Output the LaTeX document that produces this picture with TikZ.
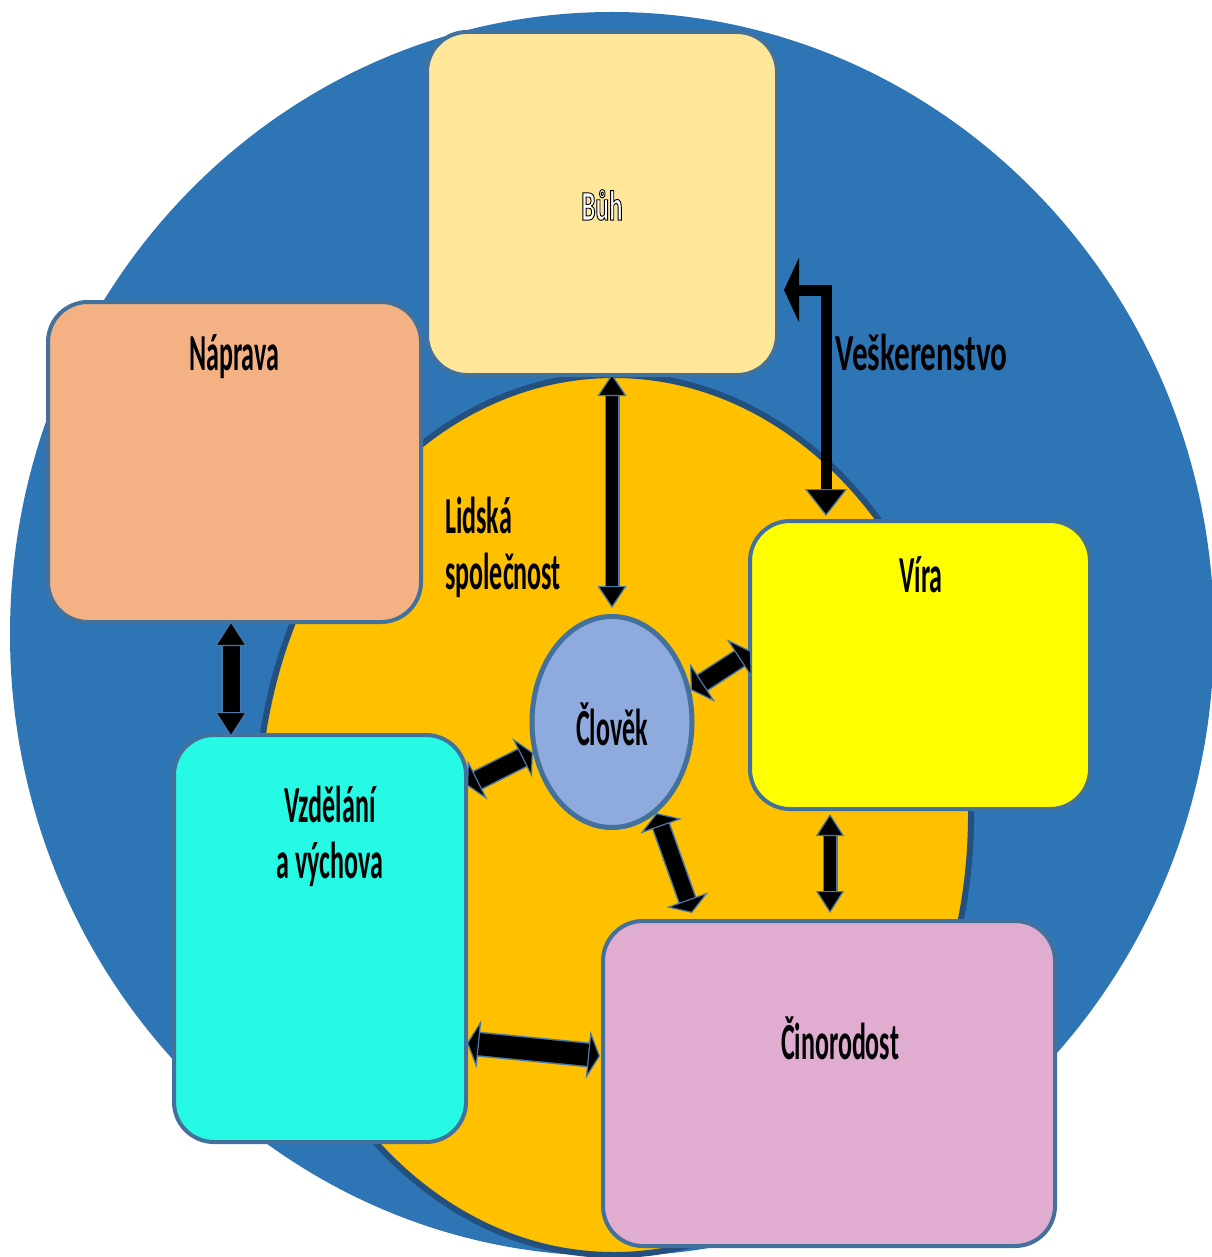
\documentclass[tikz,border=0pt]{standalone}
\usepackage{fontspec}
\usetikzlibrary{shapes.geometric,arrows.meta,calc}
\newfontfamily\cf{Carlito}[FakeStretch=0.5]
\newfontfamily\cfw{Carlito}[FakeStretch=0.6]
\definecolor{bgblue}{RGB}{46,117,182}
\definecolor{soc}{RGB}{255,192,0}
\definecolor{socedge}{RGB}{36,80,128}
\definecolor{boxedge}{RGB}{65,113,156}
\definecolor{arredge}{RGB}{70,120,170}
\definecolor{buhfill}{RGB}{255,230,153}
\definecolor{naprfill}{RGB}{244,177,131}
\definecolor{virafill}{RGB}{255,255,0}
\definecolor{vzdfill}{RGB}{38,250,228}
\definecolor{cinfill}{RGB}{224,172,208}
\definecolor{clofill}{RGB}{143,170,220}
\newcommand\outlinedtext[1]{\special{pdf:literal direct 2 Tr 0 0 0 RG 0.9 w}#1\special{pdf:literal direct 0 Tr}}
\tikzset{
  box/.style={draw=boxedge, line width=4pt, rounded corners=40pt, inner sep=0pt},
  lbl/.style={font=\cf\bfseries\fontsize{52}{56}\selectfont, text=black, inner sep=0pt},
  dbl/.style args={#1/#2/#3}{line width=#1pt, draw=black,
     preaction={draw=arredge, arrows=-, line width=#1pt+3pt, shorten <=#2pt, shorten >=#2pt},
     {Triangle[length=#2pt,width=#3pt,color=arredge,fill=black,line width=1.2pt]}-{Triangle[length=#2pt,width=#3pt,color=arredge,fill=black,line width=1.2pt]}}
}
\begin{document}
\begin{tikzpicture}[x=1pt,y=-1pt]
\useasboundingbox (0,0) rectangle (1211,1257);
% background circles
\fill[bgblue] (612,634) ellipse [x radius=602, y radius=622];
\filldraw[fill=soc, draw=socedge, line width=6pt] (614,815) ellipse [x radius=357, y radius=440];
% boxes
\node[box, fill=buhfill, minimum width=350pt, minimum height=343pt] (buh) at (602,203.5) {};
\node[box, fill=naprfill, minimum width=373pt, minimum height=320pt] (naprava) at (234.5,462) {};
\node[box, fill=virafill, minimum width=340pt, minimum height=288pt] (vira) at (920,665) {};
\node[box, fill=vzdfill, minimum width=292pt, minimum height=407pt] (vzdelani) at (320,938.5) {};
\node[box, fill=cinfill, minimum width=452pt, minimum height=325pt] (cinorodost) at (829,1083.5) {};
\node[ellipse, draw=boxedge, line width=5pt, fill=clofill, minimum width=160pt, minimum height=211pt, inner sep=0pt] (clovek) at (612,722) {};
% labels
\node[lbl, font=\cfw\bfseries\fontsize{42}{46}\selectfont, text=white] (tbuh) at (602,205) {\outlinedtext{Bůh}};
\node[lbl] (tnaprava) at (234,357) {Náprava};
\node[lbl] (tvira) at (921,575) {Víra};
\node[lbl] (tclovek) at (612,724) {Člověk};
\node[lbl, align=center] (tvzd) at (330,836) {Vzdělání\\a výchova};
\node[lbl] (tcin) at (840,1038) {Činorodost};
\node[lbl, align=left, anchor=west] (tspol) at (445,547) {Lidská\\společnost};
\node[lbl, font=\cfw\bfseries\fontsize{52}{56}\selectfont, anchor=west] (tvesk) at (835,352) {Veškerenstvo};
% connectors
\draw[dbl=12/22/29] ($(clovek.north |- buh.south)+(0,-3)$) -- ($(clovek.north)+(0,-6)$);
\draw[dbl=17/25/32] ($(naprava.south)+(-3.5,-3)$) -- ($(vzdelani.north)+(-89,4)$);
\draw[dbl=17/14/46] (clovek.22) -- ($(vira.west)+(3,-14)$);
\draw[dbl=18/12/44] (clovek.201) -- ($(vzdelani.east)+(-1,-153)$);
\draw[dbl=16/14/44] (clovek.-64) -- ($(cinorodost.north)+(-137,-6)$);
\draw[dbl=12/22/28] ($(vira.south)+(-90,3)$) -- ($(cinorodost.north)+(1,-6)$);
\draw[dbl=22/12/48] ($(vzdelani.east)+(-1,104.5)$) -- ($(cinorodost.west)+(-1,-27.5)$);
\coordinate (veskA) at ($(buh.east)+(5,86.5)$);
\coordinate (veskB) at ($(vira.north)+(-94,-3)$);
\draw[line width=11pt, {Triangle[length=15pt,width=64pt]}-{Triangle[length=27pt,width=42pt,color=arredge,fill=black,line width=1.2pt]}] (veskA) -| (veskB);
\end{tikzpicture}
\end{document}
